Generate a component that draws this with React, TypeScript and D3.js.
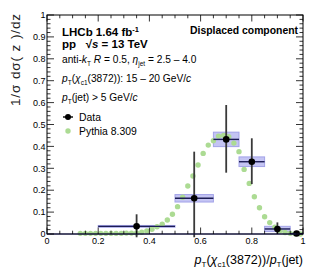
import React from "react";
import * as d3 from "d3";

// data bins: lower edge, upper edge, centre, value, stat errors, syst
const binLo = [0.2, 0.5, 0.65, 0.75, 0.85, 0.95];
const binHi = [0.5, 0.65, 0.75, 0.85, 0.95, 1.0];
const binX = [0.35, 0.575, 0.7, 0.8, 0.9, 0.975];
const dataY = [0.035, 0.163, 0.432, 0.33, 0.023, 0.002];
const errUp = [0.055, 0.213, 0.157, 0.107, 0.03, 0.004];
const errDn = [0.05, 0.178, 0.152, 0.102, 0.023, 0.002];
const sysErr = [0.004, 0.017, 0.033, 0.022, 0.012, 0.002];

// pythia points (bin centres every 0.02)
const pythiaX = [
  0.13, 0.15, 0.17, 0.19, 0.21, 0.23, 0.25, 0.27, 0.29, 0.31, 0.33, 0.35, 0.37,
  0.39, 0.41, 0.43, 0.45, 0.47, 0.49, 0.51, 0.53, 0.55, 0.57, 0.59, 0.61, 0.63,
  0.65, 0.67, 0.69, 0.71, 0.73, 0.75, 0.77, 0.79, 0.81, 0.83, 0.85, 0.87, 0.89,
  0.91, 0.93, 0.95, 0.97, 0.99,
];
const pythiaY = [
  0.003, 0.003, 0.003, 0.003, 0.003, 0.003, 0.003, 0.003, 0.003, 0.004, 0.004,
  0.005, 0.008, 0.014, 0.022, 0.033, 0.045, 0.064, 0.09, 0.125, 0.168, 0.219,
  0.265, 0.315, 0.368, 0.406, 0.426, 0.447, 0.45, 0.444, 0.415, 0.376, 0.295,
  0.231, 0.17, 0.12, 0.079, 0.052, 0.031, 0.015, 0.007, 0.003, 0.001, 0.0,
];

const xTicks = [0, 0.2, 0.4, 0.6, 0.8, 1];
const xTickLabels = ["0", "0.2", "0.4", "0.6", "0.8", "1"];
const yTicks = [0, 0.1, 0.2, 0.3, 0.4, 0.5, 0.6, 0.7, 0.8, 0.9, 1];
const yTickLabels = ["0", "0.1", "0.2", "0.3", "0.4", "0.5", "0.6", "0.7", "0.8", "0.9", "1"];

const W = 315;
const H = 276;
const frame = { left: 47, right: 303, top: 15, bottom: 234 };
const font = "'Liberation Sans', Arial, Helvetica, sans-serif";
const green = "#acdb93";
const navy = "#1c1c55";

const Sub = ({ children, size = 7 }: { children: React.ReactNode; size?: number }) => (
  <tspan fontSize={size} dy={3}>
    {children}
  </tspan>
);
const Up = ({ children }: { children: React.ReactNode }) => <tspan dy={-3}>{children}</tspan>;

export default function App() {
  const x = d3.scaleLinear().domain([0, 1]).range([frame.left, frame.right]);
  const y = d3.scaleLinear().domain([0, 1]).range([frame.bottom, frame.top]);

  const xMinor = d3.range(0, 1.0001, 0.05);
  const yMinor = d3.range(0, 1.0001, 0.02);

  return (
    <div style={{ position: "absolute", left: 0, top: 0 }}>
      <svg width={W} height={H} style={{ display: "block", fontFamily: font }}>
        <rect width={W} height={H} fill="#fff" />

        {/* systematic boxes */}
        {binX.map((_, i) => (
          <rect
            key={"s" + i}
            x={x(binLo[i])}
            y={y(dataY[i] + sysErr[i])}
            width={x(binHi[i]) - x(binLo[i])}
            height={Math.max(1.5, y(dataY[i] - sysErr[i]) - y(dataY[i] + sysErr[i]))}
            fill="#c4c4f3"
            stroke="#a3a3e8"
            strokeWidth={1}
          />
        ))}

        {/* pythia */}
        {pythiaX.map((px, i) => (
          <circle key={"p" + i} cx={x(px)} cy={y(pythiaY[i])} r={2.7} fill={green} />
        ))}

        {/* data */}
        {binX.map((bx, i) => (
          <g key={"d" + i}>
            <line x1={x(binLo[i])} x2={x(binHi[i])} y1={y(dataY[i])} y2={y(dataY[i])} stroke={navy} strokeWidth={1.4} />
            <line x1={x(bx)} x2={x(bx)} y1={y(dataY[i] + errUp[i])} y2={y(dataY[i] - errDn[i])} stroke="#3a3a3a" strokeWidth={1.8} />
            <circle cx={x(bx)} cy={y(dataY[i])} r={3.3} fill="#000" />
          </g>
        ))}

        {/* frame */}
        <rect
          x={frame.left}
          y={frame.top}
          width={frame.right - frame.left}
          height={frame.bottom - frame.top}
          fill="none"
          stroke="#000"
          strokeWidth={1}
        />
        <line x1={frame.left} x2={frame.right} y1={frame.bottom} y2={frame.bottom} stroke={navy} strokeWidth={1.2} />

        {/* x ticks */}
        {xMinor.map((t, i) => {
          const major = i % 4 === 0;
          const len = major ? 6.5 : 3.3;
          return (
            <g key={"xt" + i} stroke="#000" strokeWidth={0.8}>
              <line x1={x(t)} x2={x(t)} y1={frame.bottom} y2={frame.bottom - len} />
              <line x1={x(t)} x2={x(t)} y1={frame.top} y2={frame.top + len} />
            </g>
          );
        })}
        {/* y ticks */}
        {yMinor.map((t, i) => {
          const major = i % 5 === 0;
          const len = major ? 7 : 3.5;
          return (
            <g key={"yt" + i} stroke="#000" strokeWidth={0.8}>
              <line x1={frame.left} x2={frame.left + len} y1={y(t)} y2={y(t)} />
              <line x1={frame.right} x2={frame.right - len} y1={y(t)} y2={y(t)} />
            </g>
          );
        })}

        {/* tick labels */}
        {xTicks.map((t, i) => (
          <text key={"xl" + i} x={x(t)} y={244} fontSize={9} textAnchor="middle" fill="#000">
            {xTickLabels[i]}
          </text>
        ))}
        {yTicks.map((t, i) => (
          <text key={"yl" + i} x={45.5} y={y(t) + 3.2} fontSize={9} textAnchor="end" fill="#000">
            {yTickLabels[i]}
          </text>
        ))}

        {/* axis titles */}
        <text x={303} y={264} fontSize={12.5} textAnchor="end" fill="#000">
          <tspan fontStyle="italic">p</tspan>
          <Sub size={8}>T</Sub>
          <tspan dy={-3}>(</tspan>
          <tspan fontStyle="italic">χ</tspan>
          <Sub size={8}>c1</Sub>
          <tspan dy={-3}>(3872))/</tspan>
          <tspan fontStyle="italic">p</tspan>
          <Sub size={8}>T</Sub>
          <tspan dy={-3}>(jet)</tspan>
        </text>
        <text
          transform="translate(19.5,13) rotate(-90)"
          fontSize={13.5}
          letterSpacing={0.9}
          textAnchor="end"
          fill="#222"
        >
          1/σ dσ( z )/dz
        </text>

        {/* labels */}
        <text x={62} y={36} fontSize={11.5} fontWeight="bold" fill="#000">
          LHCb 1.64 fb<tspan fontSize={7.5} dy={-4.5}>-1</tspan>
        </text>
        <text x={62} y={48} fontSize={11.5} fontWeight="bold" fill="#000">
          pp{"\u00a0\u00a0\u00a0"}√<tspan fontStyle="italic">s</tspan> = 13 TeV
        </text>
        <text x={298} y={34} fontSize={10.4} fontWeight="bold" textAnchor="end" fill="#000">
          Displaced component
        </text>
        <text x={62} y={63} fontSize={10.2} fill="#000">
          anti-<tspan fontStyle="italic">k</tspan>
          <Sub size={6.5}>T</Sub>
          <Up>{"\u00a0"}</Up>
          <tspan fontStyle="italic">R</tspan> = 0.5,{" "}
          <tspan fontStyle="italic">η</tspan>
          <Sub size={6.5}>jet</Sub>
          <Up>{"\u00a0"}= 2.5 – 4.0</Up>
        </text>
        <text x={62} y={82} fontSize={10.2} fill="#000">
          <tspan fontStyle="italic">p</tspan>
          <Sub size={6.5}>T</Sub>
          <Up>(</Up>
          <tspan fontStyle="italic">χ</tspan>
          <Sub size={6.5}>c1</Sub>
          <Up>(3872)): 15 – 20 GeV/</Up>
          <tspan fontStyle="italic">c</tspan>
        </text>
        <text x={62} y={101} fontSize={10.2} fill="#000">
          <tspan fontStyle="italic">p</tspan>
          <Sub size={6.5}>T</Sub>
          <Up>(jet) &gt; 5 GeV/</Up>
          <tspan fontStyle="italic">c</tspan>
        </text>

        {/* legend */}
        <line x1={63} x2={73} y1={117} y2={117} stroke="#000" strokeWidth={1.4} />
        <circle cx={68} cy={117} r={3} fill="#000" />
        <text x={79} y={120.5} fontSize={10.4} fill="#000">
          Data
        </text>
        <circle cx={68} cy={131} r={2.7} fill={green} />
        <text x={79} y={134.5} fontSize={10.4} fill="#000">
          Pythia 8.309
        </text>
      </svg>
    </div>
  );
}
